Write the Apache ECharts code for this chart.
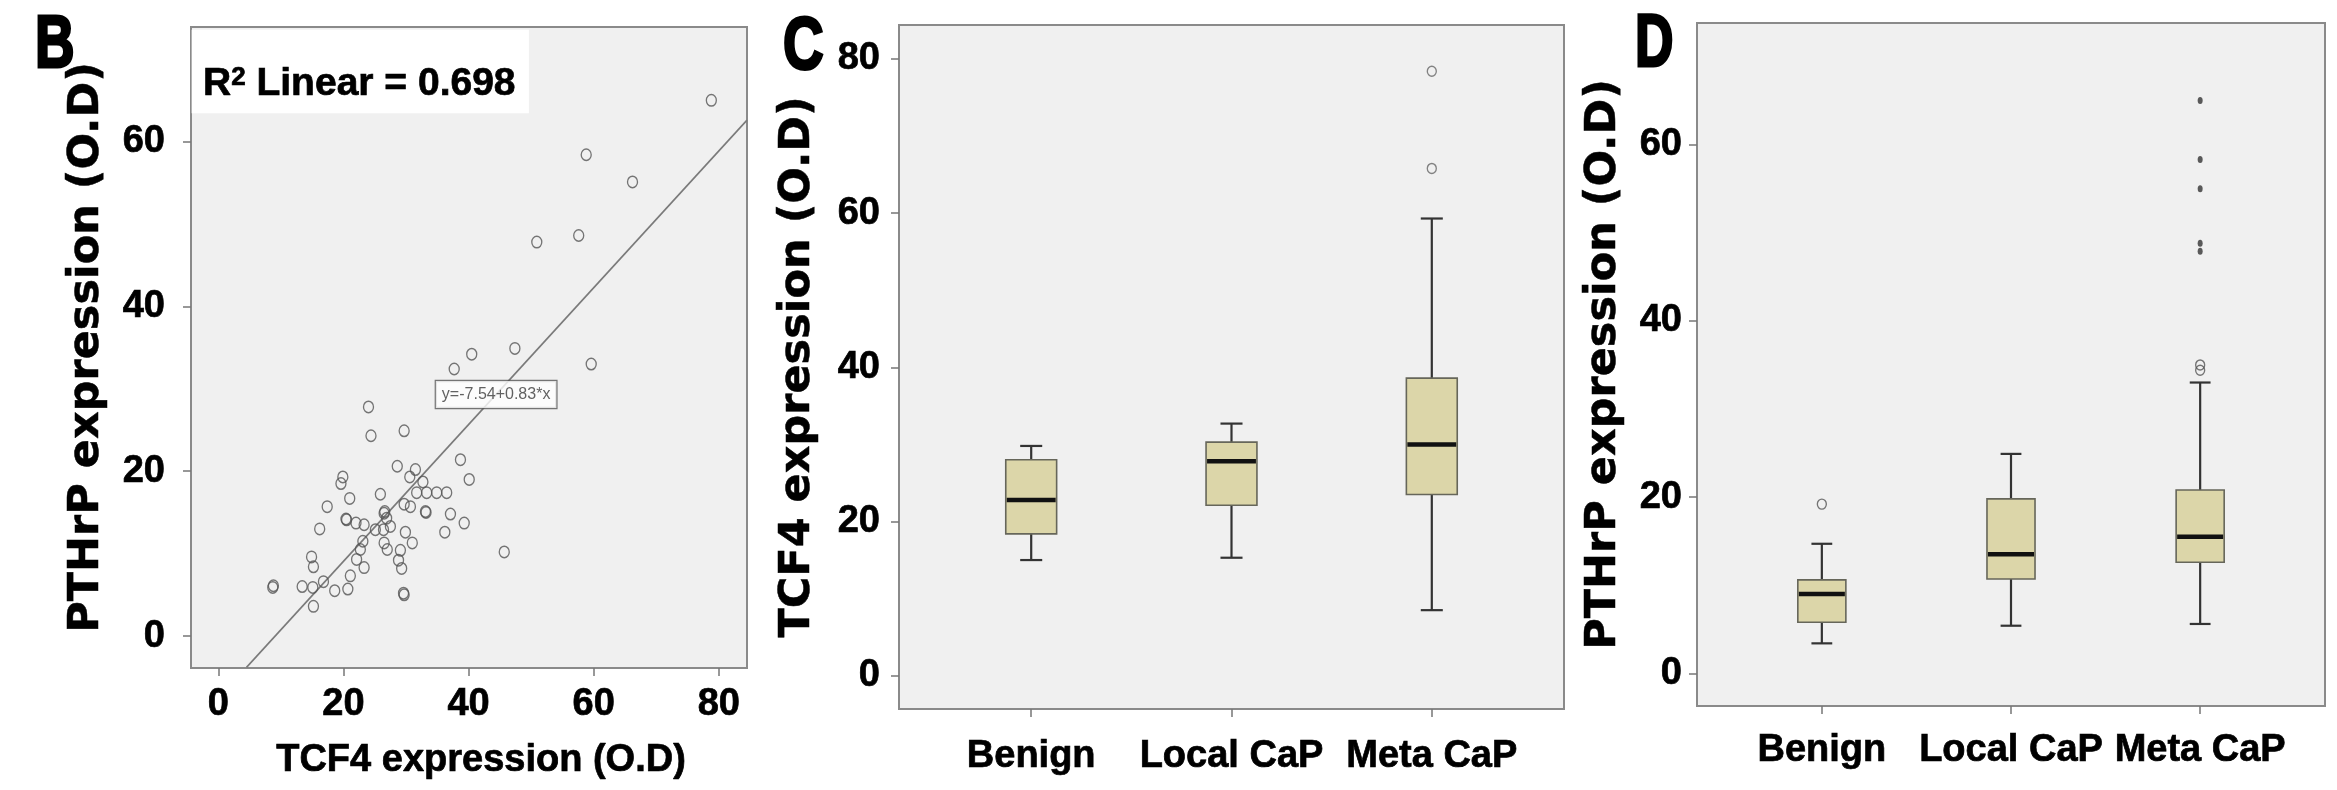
<!DOCTYPE html>
<html><head><meta charset="utf-8">
<script src="https://cdn.jsdelivr.net/npm/echarts@6/dist/echarts.min.js"></script>
<style>html,body{margin:0;padding:0;background:#fff}#c{width:2337px;height:790px}</style>
</head><body><div id="c"></div>
<script>
// ---------- DATA ----------
// Panel B: scatter TCF4 (x) vs PTHrP (y)
const tcf4X = [78.8,58.8,66.2,50.9,57.6,47.4,40.5,37.7,59.6,24.0,24.4,29.7,38.7,40.1,28.6,31.5,30.6,32.7,31.7,33.3,34.9,36.5,19.9,19.6,21.0,25.9,17.4,29.7,30.7,33.1,33.2,20.4,20.5,22.0,23.3,16.2,26.5,26.6,26.9,25.1,26.4,27.5,37.1,39.3,36.2,29.9,31.0,23.1,22.7,26.5,27.0,29.1,28.8,29.3,22.1,23.3,14.9,15.2,45.7,21.1,16.8,8.7,8.8,13.4,15.1,18.6,20.7,29.6,29.7,15.2];
const pthrpY = [65.0,58.4,55.1,47.8,48.6,34.9,34.2,32.4,33.0,27.8,24.3,24.9,21.4,19.0,20.6,20.2,19.3,18.7,17.4,17.4,17.4,17.4,19.3,18.5,16.7,17.2,15.7,16.0,15.7,15.1,15.0,14.2,14.1,13.7,13.5,13.0,14.9,15.1,14.3,12.9,12.9,13.3,14.8,13.7,12.6,12.6,11.3,11.5,10.5,11.3,10.5,10.4,9.2,8.2,9.3,8.3,9.6,8.4,10.2,7.3,6.6,5.9,6.1,6.0,5.9,5.5,5.7,5.2,5.0,3.6];
const fitLine = [[4.5,-3.8],[84.5,62.6]];
const fitLabel = 'y=-7.54+0.83*x';
const r2Value = '0.698';
const ticksBX = [0,20,40,60,80];
const ticksBY = [0,20,40,60];

// Panels C & D: box plots  [min, Q1, median, Q3, max]
const groups = ['Benign','Local CaP','Meta CaP'];
const tcf4Box = [[15.0,18.4,22.8,28.0,29.8],[15.3,22.1,27.8,30.3,32.7],[8.5,23.5,30.0,38.6,59.3]];
const tcf4Outliers = [[2,78.4],[2,65.8]];
const pthrpBox = [[3.4,5.8,9.0,10.6,14.7],[5.4,10.7,13.5,19.8,24.9],[5.6,12.6,15.5,20.8,33.0]];
const pthrpOutliers = [[0,19.2],[2,35.0],[2,34.4]];
const pthrpExtremes = [[2,65.0],[2,58.3],[2,55.0],[2,48.8],[2,47.9]];
const ticksCY = [0,20,40,60,80];
const ticksDY = [0,20,40,60];
const groupTicks = [0,1,2];

// ---------- STYLE ----------
const FONT = 'Liberation Sans';
const TFONT = 'DejaVu Sans';
const tickLine = {color:'#777', width:1.5};
const heavy = {textBorderColor:'#000', textBorderWidth:0.7};
function lbl(size, margin, extra){return Object.assign({fontSize:size,fontWeight:'bold',fontFamily:FONT,color:'#000',margin:margin},heavy,extra||{});}
function gridBox(l,t,w,h){return {left:l,top:t,width:w,height:h,show:true,backgroundColor:'#f0f0f0',borderColor:'#8a8a8a',borderWidth:2,containLabel:false};}
function valueAxis(gi,min,max,ticks,margin,name,nameGap,nameStyle,fmt){
  const a = {type:'value',gridIndex:gi,min:min,max:max,
    axisLine:{show:false,onZero:false},splitLine:{show:false},
    axisTick:{show:true,length:8,customValues:ticks,lineStyle:tickLine},
    axisLabel:lbl(38,margin,{customValues:ticks})};
  if(fmt) a.axisLabel.formatter = fmt;
  if(name){a.name=name;a.nameLocation='middle';a.nameGap=nameGap;a.nameTextStyle=nameStyle;}
  return a;
}
const yTitle = Object.assign({fontSize:43,fontWeight:'bold',fontFamily:TFONT,color:'#000'},{textBorderColor:'#000',textBorderWidth:0.5});
const catFmt = v => groups[Math.round(v)];

function boxRenderer(params, api){
  const x = api.value(0);
  const v = [1,2,3,4,5].map(i=>api.value(i));
  const band = api.size([1,0])[0];
  const half = band*0.127, cap = band*0.055;
  const p = v.map(val=>api.coord([x,val]));
  const cx = p[0][0];
  const ws = {stroke:'#333',lineWidth:2.2};
  return {type:'group',children:[
    {type:'line',shape:{x1:cx,y1:p[4][1],x2:cx,y2:p[3][1]},style:ws},
    {type:'line',shape:{x1:cx,y1:p[1][1],x2:cx,y2:p[0][1]},style:ws},
    {type:'line',shape:{x1:cx-cap,y1:p[4][1],x2:cx+cap,y2:p[4][1]},style:ws},
    {type:'line',shape:{x1:cx-cap,y1:p[0][1],x2:cx+cap,y2:p[0][1]},style:ws},
    {type:'rect',shape:{x:cx-half,y:p[3][1],width:2*half,height:p[1][1]-p[3][1]},style:{fill:'#dcd6a9',stroke:'#66665a',lineWidth:1.6}},
    {type:'line',shape:{x1:cx-half+1,y1:p[2][1],x2:cx+half-1,y2:p[2][1]},style:{stroke:'#111',lineWidth:4.5}}
  ]};
}

const chart = echarts.init(document.getElementById('c'), null, {renderer:'canvas'});
const scatterData = tcf4X.map((x,i)=>[x,pthrpY[i]]);
const hollow = {color:'transparent',borderColor:'#555',borderWidth:1.4};
const letterStyle = {fontSize:74,fontWeight:'bold',fontFamily:FONT,fill:'#000',stroke:'#000',lineWidth:3,align:'left',verticalAlign:'middle'};

chart.setOption({
  backgroundColor:'#fff',
  animation:false,
  title:{
    text:'{a|R}{s|2}{a| Linear = '+r2Value+'}',
    left:192, top:30,
    backgroundColor:'#fff',
    padding:[35,13,9,11],
    textStyle:{rich:{
      a:Object.assign({fontSize:39,fontWeight:'bold',fontFamily:FONT,color:'#000'},heavy),
      s:Object.assign({fontSize:26,fontWeight:'bold',fontFamily:FONT,color:'#000',verticalAlign:'top'},heavy)
    }}
  },
  grid:[gridBox(191,27,556,641), gridBox(899,25,665,684), gridBox(1697,23,628,683)],
  xAxis:[
    valueAxis(0,-4.37,84.5,ticksBX,18,'TCF4 expression (O.D)',74,Object.assign({fontSize:38,fontWeight:'bold',fontFamily:FONT,color:'#000',padding:[0,0,0,24]},heavy)),
    valueAxis(1,-0.66,2.66,groupTicks,29,null,0,null,catFmt),
    valueAxis(2,-0.66,2.66,groupTicks,26,null,0,null,catFmt)
  ],
  yAxis:[
    valueAxis(0,-3.88,73.9,ticksBY,26,'PTHrP expression (O.D)',83,yTitle),
    valueAxis(1,-4.32,84.4,ticksCY,19,'TCF4 expression (O.D)',80,yTitle),
    valueAxis(2,-3.71,73.8,ticksDY,15,'PTHrP expression (O.D)',72,yTitle)
  ],
  graphic:[
    {type:'text',x:35,y:47,scaleX:0.74,style:Object.assign({text:'B'},letterStyle)},
    {type:'text',x:783,y:49,scaleX:0.76,style:Object.assign({text:'C'},letterStyle)},
    {type:'text',x:1635,y:46,scaleX:0.72,style:Object.assign({text:'D'},letterStyle)}
  ],
  series:[
    {type:'scatter',xAxisIndex:0,yAxisIndex:0,data:scatterData,symbol:'circle',symbolSize:[10,11.5],itemStyle:hollow,silent:true,z:3},
    {type:'line',xAxisIndex:0,yAxisIndex:0,data:fitLine,showSymbol:false,symbol:'none',lineStyle:{color:'#7a7a7a',width:1.6},silent:true,z:2},
    {type:'scatter',xAxisIndex:0,yAxisIndex:0,data:[[44.4,29.3]],symbolSize:0,silent:true,z:5,
      label:{show:true,position:'inside',formatter:fitLabel,fontSize:16,fontFamily:FONT,color:'#3a3a3a',backgroundColor:'#fff',borderColor:'#555',borderWidth:1.2,padding:[6,6,5,6]}},
    {type:'custom',xAxisIndex:1,yAxisIndex:1,renderItem:boxRenderer,encode:{x:0,y:[1,2,3,4,5]},data:tcf4Box.map((b,i)=>[i].concat(b)),silent:true},
    {type:'scatter',xAxisIndex:1,yAxisIndex:1,data:tcf4Outliers,symbol:'circle',symbolSize:[9,10],itemStyle:{color:'transparent',borderColor:'#666',borderWidth:1.4},silent:true},
    {type:'custom',xAxisIndex:2,yAxisIndex:2,renderItem:boxRenderer,encode:{x:0,y:[1,2,3,4,5]},data:pthrpBox.map((b,i)=>[i].concat(b)),silent:true},
    {type:'scatter',xAxisIndex:2,yAxisIndex:2,data:pthrpOutliers,symbol:'circle',symbolSize:[9,10],itemStyle:{color:'transparent',borderColor:'#555',borderWidth:1.4},silent:true},
    {type:'scatter',xAxisIndex:2,yAxisIndex:2,data:pthrpExtremes,symbol:'circle',symbolSize:[5,7],itemStyle:{color:'#333'},silent:true}
  ]
});
</script></body></html>
